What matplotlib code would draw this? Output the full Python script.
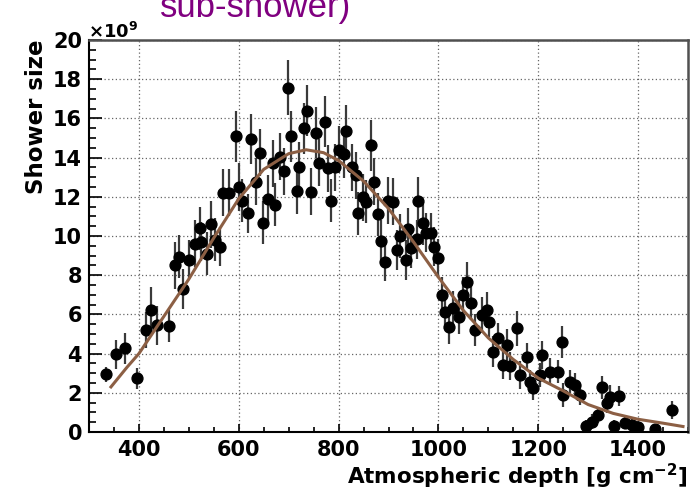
import matplotlib
matplotlib.use("Agg")
import matplotlib.pyplot as plt
from matplotlib.ticker import MultipleLocator

# measured points: atmospheric depth [g cm^-2], shower size [1e9], error [1e9]
depth = [335, 355, 373, 397, 415, 425, 437, 460, 472, 480, 489, 500, 512, 522,
         525, 537, 545, 553, 562, 569, 580, 595, 600, 607, 619, 625, 635, 643,
         648, 659, 669, 673, 683, 691, 698, 705, 717, 721, 730, 737, 745, 755,
         760, 772, 779, 785, 792, 800, 810, 815, 827, 835, 839, 849, 855, 865,
         870, 879, 885, 892, 898, 910, 918, 923, 935, 940, 945, 957, 960, 970,
         975, 985, 991, 1000, 1007, 1013, 1021, 1030, 1042, 1050, 1058, 1065,
         1073, 1087, 1097, 1102, 1110, 1120, 1129, 1138, 1143, 1157, 1163, 1177,
         1183, 1190, 1203, 1207, 1223, 1240, 1247, 1250, 1263, 1273, 1283, 1295,
         1307, 1320, 1328, 1337, 1343, 1352, 1361, 1373, 1387, 1399, 1433, 1468]
size = [2.94, 3.96, 4.27, 2.74, 5.2, 6.2, 5.45, 5.4, 8.5, 8.95, 7.3, 8.8, 9.6,
        10.4, 9.7, 9.1, 10.6, 9.8, 9.45, 12.2, 12.2, 15.1, 12.5, 11.8, 11.15,
        14.95, 12.77, 14.25, 10.68, 11.9, 13.7, 11.6, 14.05, 13.3, 17.57, 15.1,
        12.3, 13.5, 15.5, 16.4, 12.26, 15.27, 13.74, 15.83, 13.45, 11.8, 13.5,
        14.4, 14.17, 15.36, 13.5, 13.1, 11.15, 11.97, 11.75, 14.64, 12.77, 11.1,
        9.74, 8.69, 11.8, 11.75, 9.29, 10.0, 8.78, 10.34, 9.37, 9.83, 11.8,
        10.65, 10.17, 10.17, 9.45, 8.86, 6.99, 6.14, 5.37, 6.31, 5.88, 6.99,
        7.67, 6.6, 5.2, 5.97, 6.22, 5.63, 4.1, 4.78, 3.42, 4.44, 3.37, 5.29,
        2.9, 3.84, 2.57, 2.23, 2.9, 3.93, 3.08, 3.08, 4.6, 1.89, 2.57, 2.4,
        1.89, 0.3, 0.53, 0.87, 2.28, 1.46, 1.8, 0.3, 1.84, 0.44, 0.36, 0.27,
        0.14, 1.12]
size_err = [0.4, 0.75, 0.8, 0.55, 0.9, 1.2, 1.0, 0.8, 1.2, 1.1, 1.0, 1.0, 1.2,
            1.1, 1.0, 1.1, 1.2, 1.1, 1.0, 1.2, 1.2, 1.3, 1.2, 1.1, 1.0, 1.3,
            1.2, 1.2, 1.1, 1.2, 1.2, 1.1, 1.2, 1.2, 1.4, 1.3, 1.2, 1.3, 1.3,
            1.3, 1.2, 1.3, 1.2, 1.3, 1.2, 1.1, 1.2, 1.2, 1.2, 1.3, 1.2, 1.2,
            1.1, 1.2, 1.1, 1.3, 1.2, 1.1, 1.1, 1.0, 1.2, 1.2, 1.0, 1.1, 1.0,
            1.1, 1.0, 1.0, 1.2, 1.1, 1.0, 1.0, 1.0, 1.0, 0.9, 0.9, 0.9, 0.9,
            0.9, 0.9, 1.0, 0.9, 0.8, 0.9, 0.9, 0.8, 0.8, 0.8, 0.7, 0.8, 0.7,
            0.9, 0.7, 0.7, 0.6, 0.6, 0.6, 0.7, 0.7, 0.6, 0.8, 0.6, 0.6, 0.6,
            0.5, 0.3, 0.4, 0.4, 0.6, 0.5, 0.6, 0.3, 0.5, 0.3, 0.3, 0.3, 0.2,
            0.45]

# fitted profile
fit_depth = [344, 376, 400, 450, 500, 550, 600, 650, 700, 735, 770, 800, 850,
             900, 950, 1000, 1050, 1100, 1150, 1200, 1250, 1300, 1350, 1400,
             1450, 1490]
fit_size = [2.3, 3.3, 4.0, 5.9, 7.8, 9.9, 11.9, 13.4, 14.2, 14.4, 14.25, 13.85,
            12.8, 11.4, 9.7, 7.9, 6.2, 4.8, 3.7, 2.75, 2.1, 1.4, 0.95, 0.65,
            0.45, 0.28]

fig = plt.figure(figsize=(6.99, 4.96), dpi=100)
ax = fig.add_axes([89 / 699, 64 / 496, 599 / 699, 392 / 496])

ax.errorbar(depth, size, yerr=size_err, fmt="o", color="black", ms=7.8,
            ecolor="#3a3a3a", elinewidth=1.6, capsize=0, zorder=3)
ax.plot(fit_depth, fit_size, color="#8c5f44", lw=2.2, zorder=4)

ax.set_xlim(300, 1500)
ax.set_ylim(0, 20)
ax.xaxis.set_major_locator(MultipleLocator(200))
ax.xaxis.set_minor_locator(MultipleLocator(50))
ax.yaxis.set_major_locator(MultipleLocator(2))
ax.yaxis.set_minor_locator(MultipleLocator(0.5))
ax.tick_params(which="both", direction="in", top=False, right=False,
               color="black", width=1.2)
ax.tick_params(axis="y", which="major", length=9, pad=5)
ax.tick_params(axis="y", which="minor", length=5)
ax.tick_params(axis="x", which="major", length=6, pad=6)
ax.tick_params(axis="x", which="minor", length=3.5)
for lab in ax.get_xticklabels() + ax.get_yticklabels():
    lab.set_fontsize(15)
    lab.set_fontweight("bold")

ax.grid(True, which="major", color="#666666", linestyle=(0, (1, 2)), lw=0.9)
ax.set_axisbelow(True)
for side in ["left", "bottom"]:
    ax.spines[side].set_linewidth(1.5)
for side in ["top", "right"]:
    ax.spines[side].set_linewidth(1.8)
    ax.spines[side].set_color("#505050")

ax.set_xlabel(r"Atmospheric depth [g cm$^{\mathbf{-2}}$]", fontsize=15.5,
              fontweight="bold", loc="right")
ax.xaxis.set_label_coords(1.0, -0.075)
ax.xaxis.label.set_va("top")
ax.set_ylabel("Shower size", fontsize=16.5, fontweight="bold", loc="top")
ax.yaxis.set_label_coords(-0.068, 1.0)

fig.text(88 / 699, 1 - 38 / 496, r"$\mathbf{\times 10^{9}}$", fontsize=13,
         ha="left", va="baseline")
# slide title above the chart, cut by the top edge as in the source
fig.text(160 / 699, 1 - 17 / 496, "sub-shower)", fontsize=25, color="#800080",
         family="Liberation Sans", ha="left", va="baseline")

fig.savefig("out.png", dpi=100)
